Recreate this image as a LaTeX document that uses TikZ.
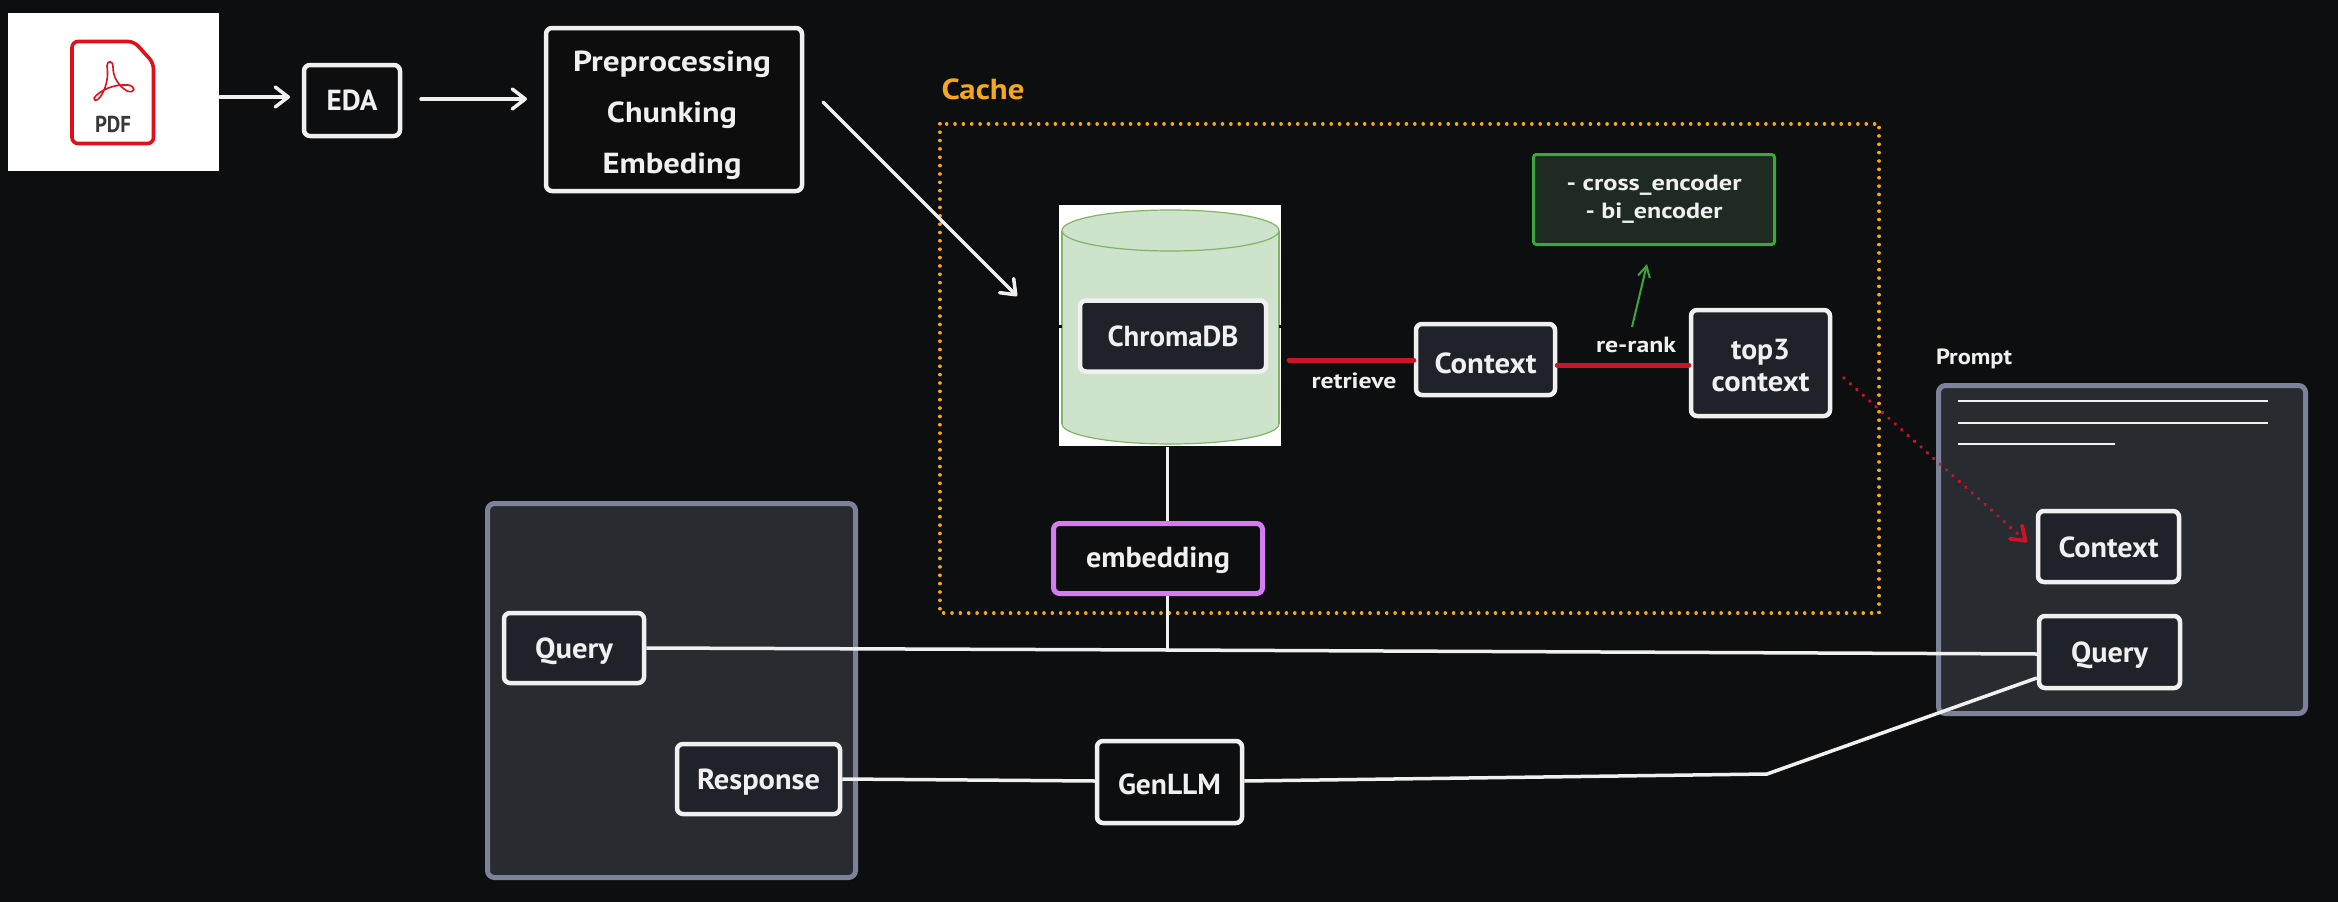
\documentclass[tikz,border=0pt]{standalone}
\usepackage{graphicx}
\usepackage{fontspec}
\setmainfont{PT Sans}
\usetikzlibrary{arrows.meta}
\definecolor{bgc}{HTML}{0D0E0F}
\definecolor{ink}{HTML}{F0F0F0}
\definecolor{boxfill}{HTML}{1F2229}
\definecolor{panelfill}{HTML}{282B30}
\definecolor{panelline}{HTML}{7C8299}
\definecolor{cacheor}{HTML}{F5A81C}
\definecolor{redl}{HTML}{CC1428}
\definecolor{greenl}{HTML}{3AA83A}
\definecolor{greenf}{HTML}{1F2B22}
\definecolor{purp}{HTML}{D67BF0}
\definecolor{cylf}{HTML}{CDE3CB}
\definecolor{cyll}{HTML}{82B366}
\definecolor{pdfred}{HTML}{E0101A}
\newcommand{\fitw}[2]{\resizebox{#1pt}{\height}{#2}}
\newcommand{\fitd}[3]{\raisebox{-#2pt}[\height][\depth]{\resizebox{#1pt}{\height}{#3}}}
\tikzset{
 x=1pt,y=-1pt,
 txt/.style={text=ink,font=\bfseries\fontsize{29}{33}\selectfont,inner sep=0pt},
 smalltxt/.style={text=ink,font=\bfseries\fontsize{22}{28}\selectfont,inner sep=0pt},
 wbox/.style={draw=ink,line width=4.5pt,rounded corners=6pt,inner sep=0pt,text=ink,align=center,font=\bfseries\fontsize{29}{33}\selectfont},
 panel/.style={draw=panelline,fill=panelfill,line width=5pt,rounded corners=7pt},
 flow/.style={ink,line width=3.5pt,line cap=round,-{Straight Barb[length=13pt,width=20pt,round]}},
 wire/.style={ink,line width=3.5pt},
 thinwire/.style={ink,line width=2.5pt},
 redwire/.style={redl,line width=5pt,line cap=round},
 reddots/.style={redl,line width=3.8pt,line cap=round,dash pattern=on 0.01pt off 8.6pt,-{Straight Barb[length=13pt,width=18pt,round]}},
 cachebox/.style={cacheor,line width=3.6pt,line cap=round,dash pattern=on 0.01pt off 8.35pt},
 promptline/.style={ink,line width=2pt},
}
\begin{document}
\begin{tikzpicture}
\useasboundingbox (0,0) rectangle (2338,902);
\fill[bgc] (0,0) rectangle (2338,902);

% PDF icon
\node[fill=white,minimum width=211pt,minimum height=158pt,inner sep=0pt] (pdfbg) at (113.5,92) {};
\draw[pdfred,line width=3.6pt,line join=round,rounded corners=6pt]
  (72,41.5) -- (134,41.5) -- (153.5,63) -- (153.5,143.5) -- (72,143.5) -- cycle;
\draw[pdfred,line width=1.6pt,line join=round]
  (107,66) .. controls (107,60) and (113,60) .. (113,67)
  .. controls (113,78) and (119,86) .. (127,91)
  .. controls (136,94) and (136,86) .. (128,85)
  .. controls (114,84) and (100,90) .. (94,98)
  .. controls (94,103) and (100,100) .. (104,90)
  .. controls (108,81) and (108,72) .. (107,66) -- cycle;
\node[text=black!78,font=\bfseries\fontsize{23}{24}\selectfont,inner sep=0pt] (pdftxt) at (113,124.5) {\fitw{36}{PDF}};

% top row
\node[wbox,fill=bgc,minimum width=96pt,minimum height=71pt] (eda) at (352,100.5) {\fitw{51}{EDA}};
\node[wbox,fill=black!95,minimum width=256pt,minimum height=163pt] (prep) at (674,109.5) {};
\node[txt,align=center] (preptxt) at (672,115)
  {\fitw{198}{Preprocessing}\\[18pt]\fitw{130}{Chunking}\\[18pt]\fitw{139}{Embeding}};
\coordinate (a1s) at (220,97);
\coordinate (a1e) at (290,97);
\coordinate (a2s) at (421,99);
\coordinate (a2e) at (527,99);
\draw[flow] (a1s) -- (a1e);
\draw[flow] (a2s) -- (a2e);

% cache
\node[inner sep=0pt,text=cacheor,font=\bfseries\fontsize{29}{33}\selectfont] (cachet) at (983,89) {\fitw{83}{Cache}};
\node[draw=none,minimum width=939pt,minimum height=489pt,inner sep=0pt] (cache) at (1409.5,368.5) {};
\draw[cachebox] (cache.north west) rectangle (cache.south east);
\coordinate (a3s) at (823,102);
\coordinate (a3e) at (1017,296);
\draw[flow] (a3s) -- (a3e);

% cylinder
\node[fill=white,minimum width=222pt,minimum height=241pt,inner sep=0pt] (cylbg) at (1170,325.5) {};
\draw[cyll,fill=cylf,line width=1.2pt] (1062,231) -- (1062,424) arc[start angle=180,end angle=360,x radius=108.5,y radius=-20] -- (1279,231);
\path[fill=cylf] (1062,231) rectangle (1279,424);
\draw[cyll,line width=1.2pt] (1062,231) -- (1062,424) (1279,231) -- (1279,424);
\draw[cyll,fill=cylf,line width=1.2pt] (1170.5,230.5) ellipse[x radius=108.5,y radius=20.5];
\fill[black] (1059,325) rectangle (1062,328);
\fill[black] (1279,325) rectangle (1282,328);
\node[wbox,fill=boxfill,minimum width=186pt,minimum height=71pt] (chroma) at (1173,336) {\fitw{131}{ChromaDB}};

% middle boxes
\node[wbox,fill=boxfill,minimum width=139pt,minimum height=71pt] (ctx) at (1485.5,359.5) {\fitd{102}{4}{Context}};
\node[wbox,fill=boxfill,minimum width=139pt,minimum height=106pt] (top) at (1760.5,363) {\fitd{59}{3}{top3}\\[-1pt]\fitd{98}{3}{context}};
\node[draw=greenl,fill=greenf,line width=3pt,rounded corners=3pt,minimum width=241pt,minimum height=90pt,inner sep=0pt,align=center,text=ink,font=\bfseries\fontsize{22}{28}\selectfont] (enc) at (1654,199.5) {\fitw{175}{- cross\_encoder}\\\fitw{137}{- bi\_encoder}};
\coordinate (r1) at (1289,360);
\coordinate (a4s) at (1632,327);
\coordinate (a4e) at (1647,264);
\draw[redwire] (r1) -- (ctx.west |- r1);
\draw[redwire] (ctx.east |- 0,365) -- (top.west |- 0,365);
\draw[greenl,line width=2pt,-{Straight Barb[length=11pt,width=12pt]}] (a4s) -- (a4e);
\node[smalltxt] (retr) at (1354,381) {\fitw{85}{retrieve}};
\node[smalltxt] (rerank) at (1636,345) {\fitw{80}{re-rank}};

% embedding and panels
\node[wbox,draw=purp,fill=bgc,line width=5pt,minimum width=209pt,minimum height=70pt] (emb) at (1158,558.5) {\fitd{144}{2}{embedding}};
\node[panel,minimum width=368pt,minimum height=374pt] (lpanel) at (671.5,690.5) {};
\node[panel,minimum width=367pt,minimum height=328pt] (rpanel) at (2122,549.5) {};
\node[smalltxt] (prompt) at (1974,359) {\fitw{76}{Prompt}};
\coordinate (l1a) at (1958,401);
\coordinate (l1b) at (2268,401);
\coordinate (l2a) at (1958,423);
\coordinate (l2b) at (2268,423);
\coordinate (l3a) at (1958,444);
\coordinate (l3b) at (2115,444);
\draw[promptline] (l1a) -- (l1b);
\draw[promptline] (l2a) -- (l2b);
\draw[promptline] (l3a) -- (l3b);

\node[wbox,fill=boxfill,minimum width=140pt,minimum height=70pt] (lq) at (574,648) {\fitd{78}{3}{Query}};
\node[wbox,fill=boxfill,minimum width=163pt,minimum height=70pt] (resp) at (758.5,779) {\fitd{123}{3}{Response}};
\node[wbox,fill=bgc,minimum width=145pt,minimum height=82pt] (gen) at (1169.5,782) {\fitd{103}{2}{GenLLM}};
\node[wbox,fill=boxfill,minimum width=141pt,minimum height=71pt] (rc) at (2108.5,546.5) {\fitd{100}{1}{Context}};
\node[wbox,fill=boxfill,minimum width=141pt,minimum height=72pt] (rq) at (2109.5,652) {\fitd{77}{3}{Query}};

% connectors
\coordinate (tj) at (1167.5,650);
\coordinate (cb) at (1167.5,447);
\coordinate (bend) at (1767,774);
\draw[thinwire] (cb) -- (cb |- emb.north);
\draw[thinwire] (cb |- emb.south) -- (tj);
\draw[wire] (lq.east |- 0,648) -- (tj) -- (rq.west |- 0,654);
\draw[wire] (resp.east |- 0,779) -- (gen.west |- 0,781);
\draw[wire] (gen.east |- 0,781) -- (bend) -- (rq.west |- 0,678);
\coordinate (d1) at (1844,378);
\coordinate (d2) at (2027,542);
\draw[reddots] (d1) -- (d2);
\end{tikzpicture}
\end{document}
